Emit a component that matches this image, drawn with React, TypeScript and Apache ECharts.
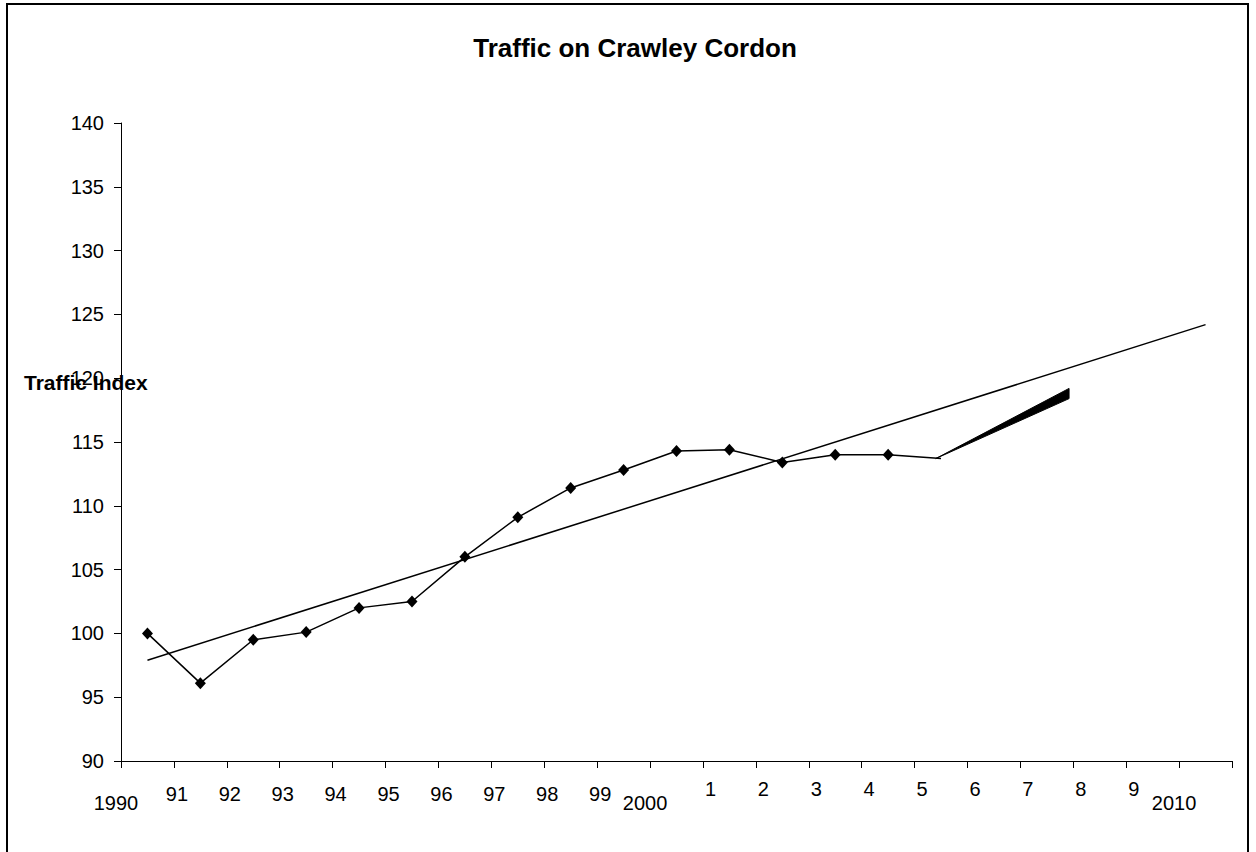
import React, { useEffect, useRef } from "react";
import * as echarts from "echarts";

const chartTitle = "Traffic on Crawley Cordon";
const yAxisTitle = "Traffic Index";
const years = [1990, 1991, 1992, 1993, 1994, 1995, 1996, 1997, 1998, 1999, 2000, 2001, 2002, 2003, 2004, 2005];
const trafficIndex = [100, 96.1, 99.5, 100.1, 102, 102.5, 106, 109.1, 111.4, 112.8, 114.3, 114.4, 113.4, 114, 114, 113.7];
const trendYears = [1990, 2010];
const trendValues = [97.9, 124.2];
const wedgeX = [2005.4, 2007.92, 2007.92];
const wedgeY = [113.7, 119.2, 118.4];
const xTickLabels = ["1990", "91", "92", "93", "94", "95", "96", "97", "98", "99", "2000", "1", "2", "3", "4", "5", "6", "7", "8", "9", "2010", ""];
const yMin = 90;
const yMax = 140;
const yStep = 5;

const FONT = "'Liberation Sans', Arial, sans-serif";

export default function App() {
  const ref = useRef<HTMLDivElement>(null);
  useEffect(() => {
    if (!ref.current) return;
    const chart = echarts.init(ref.current, null, { renderer: "svg" });
    const half = 0.5; // points sit at band centres
    const lineData = years.map((y, i) => {
      const item: any = { value: [y + half, trafficIndex[i]] };
      if (i === years.length - 1) item.symbol = "none";
      return item;
    });
    const trendData = trendYears.map((y, i) => [y + half, trendValues[i]]);
    const wedgeData = wedgeX.map((x, i) => [x, wedgeY[i]]);
    chart.setOption({
      animation: false,
      backgroundColor: "#fff",
      grid: { left: 121, top: 123, width: 1111, height: 638, containLabel: false },
      xAxis: {
        type: "value",
        min: 1990,
        max: 2011,
        interval: 1,
        splitLine: { show: false },
        axisLine: { lineStyle: { color: "#000", width: 1 } },
        axisTick: { show: true, inside: false, length: 7, lineStyle: { color: "#000" } },
        axisLabel: {
          show: true,
          showMinLabel: true,
          showMaxLabel: true,
          margin: 18,
          color: "#000",
          fontFamily: FONT,
          fontSize: 20,
          formatter: (v: number) => {
            const s = xTickLabels[Math.round(v - 1990)] ?? "";
            if (!s) return "";
            const k = s.length === 4 ? "a" : s.length === 2 ? "b" : "c";
            return `{${k}|${s}}`;
          },
          rich: {
            a: { fontFamily: FONT, fontSize: 20, color: "#000", padding: [14, 10, 0, 0] },
            b: { fontFamily: FONT, fontSize: 20, color: "#000", padding: [5, 0, 0, 6] },
            c: { fontFamily: FONT, fontSize: 20, color: "#000", padding: [0, 0, 0, 15] },
          },
        },
      },
      yAxis: {
        type: "value",
        min: yMin,
        max: yMax,
        interval: yStep,
        splitLine: { show: false },
        axisLine: { show: true, lineStyle: { color: "#000", width: 1 } },
        axisTick: { show: true, inside: false, length: 7, lineStyle: { color: "#000" } },
        axisLabel: { margin: 17, color: "#000", fontFamily: FONT, fontSize: 20 },
      },
      graphic: [
        {
          type: "rect",
          shape: { x: 7, y: 4, width: 1241, height: 900 },
          style: { fill: "none", stroke: "#000", lineWidth: 2 },
          z: 100,
        },
        {
          type: "text",
          x: 635,
          y: 48,
          style: {
            text: chartTitle,
            font: `bold 26px ${FONT}`,
            fill: "#000",
            textAlign: "center",
            textVerticalAlign: "middle",
          },
          z: 100,
        },
        {
          type: "text",
          x: 24,
          y: 382,
          style: {
            text: yAxisTitle,
            font: `bold 21px ${FONT}`,
            fill: "#000",
            textAlign: "left",
            textVerticalAlign: "middle",
          },
          z: 100,
        },
      ],
      series: [
        {
          type: "line",
          data: trendData,
          symbol: "none",
          lineStyle: { color: "#000", width: 1.5 },
          z: 2,
        },
        {
          type: "line",
          data: lineData,
          symbol: "diamond",
          symbolSize: [11, 12],
          itemStyle: { color: "#000", borderWidth: 0 },
          lineStyle: { color: "#000", width: 1.5 },
          z: 3,
        },
        {
          type: "custom",
          data: [0],
          renderItem: (_p: any, api: any) => ({
            type: "polygon",
            shape: { points: wedgeData.map((d) => api.coord(d)) },
            style: { fill: "#000", stroke: "#000", lineWidth: 1 },
          }),
          z: 4,
        },
      ],
    });
    return () => chart.dispose();
  }, []);
  return <div ref={ref} style={{ position: "absolute", left: 0, top: 0, width: 1256, height: 852 }} />;
}
